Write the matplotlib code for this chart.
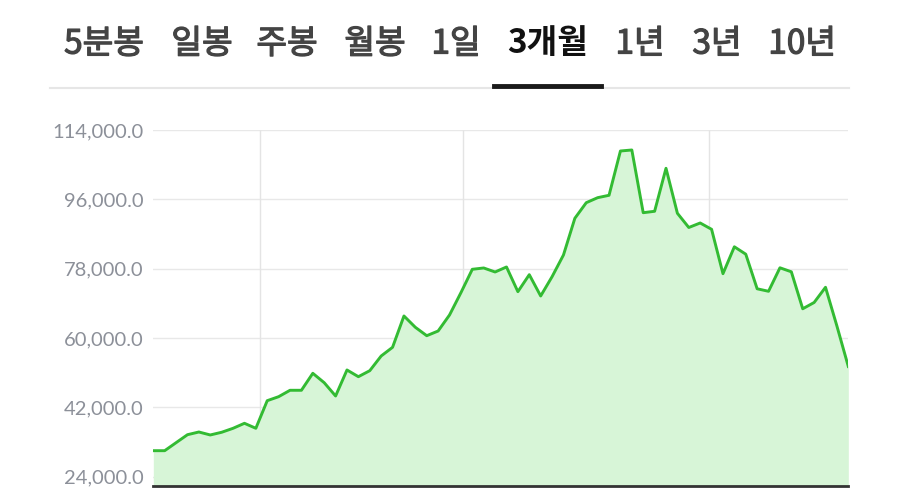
from matplotlib import pyplot as plt
from matplotlib import patheffects as pe
import numpy as np

plt.rcParams['font.family'] = ['Noto Sans CJK KR', 'DejaVu Sans']

# period tabs at the top
tabs = ['5분봉', '일봉', '주봉', '월봉', '1일', '3개월', '1년', '3년', '10년']
active_tab = '3개월'

# closing prices, 3 months
prices = np.array([30750, 30750, 32830, 34900, 35600, 34830, 35530, 36560,
                   37860, 36560, 43730, 44770, 46430, 46430, 50840, 48400,
                   44950, 51700, 49960, 51520, 55330, 57590, 65720, 62780,
                   60600, 61820, 65980, 71770, 77840, 78180, 77140, 78440,
                   72030, 76440, 70910, 75920, 81550, 91080, 95130, 96430,
                   97050, 108550, 108810, 92530, 92900, 104060, 92380, 88690,
                   89860, 88220, 76700, 83680, 81760, 72780, 72130, 78230,
                   77190, 67590, 69220, 73170, 63120, 52610])
days = np.arange(len(prices))

yticks = [24000, 42000, 60000, 78000, 96000, 114000]
month_lines = [9.37, 27.18, 48.78]   # month boundaries (in trading-day units)

##############################################################################

fig = plt.figure(figsize=(9, 4.92), dpi=100)

# tab bar
for i, t in enumerate(tabs):
    cx = [104, 202, 287, 375, 456, 548, 640, 717, 802][i] / 900
    if t == active_tab:
        fig.text(cx, 1 - 44/492, t, ha='center', va='center', fontsize=24,
                 fontweight='bold', color='#111111')
    else:
        fig.text(cx, 1 - 44/492, t, ha='center', va='center', fontsize=24,
                 color='#444444',
                 path_effects=[pe.withStroke(linewidth=0.9, foreground='#444444')])
fig.add_artist(plt.Line2D([50/900, 849/900], [1 - 88/492, 1 - 88/492],
                          color='#e6e6e6', lw=1.5))
fig.add_artist(plt.Line2D([494/900, 601/900], [1 - 86/492, 1 - 86/492],
                          color='#1a1a1a', lw=3.5))

# price chart
ax = fig.add_axes([153.3/900, 6.3/492, 695/900, 355.7/492])
ymin = 21660
ax.set_xlim(0, len(prices) - 1)
ax.set_ylim(ymin, 114000)

for v in yticks:
    ax.axhline(v, color='#e8e8e8', lw=1, zorder=0)
ax.vlines(month_lines, yticks[0], yticks[-1], color='#e4e4e4', lw=1, zorder=0)

ax.fill_between(days, prices, ymin, color='#d7f5d7', lw=0, zorder=1)
ax.plot(days, prices, color='#33bb33', lw=2.1, zorder=2)

ax.set_yticks(yticks)
ax.set_yticklabels(['{:,.1f}'.format(v) for v in yticks])
ax.tick_params(axis='y', length=0, pad=7, labelsize=14.5, labelcolor='#8c9099')
for lab in ax.get_yticklabels():
    lab.set_family(['Lato', 'DejaVu Sans'])
ax.set_xticks([])
for s in ['top', 'left', 'right']:
    ax.spines[s].set_visible(False)
ax.spines['bottom'].set_color('#333333')
ax.spines['bottom'].set_linewidth(2)

plt.savefig('out.png', dpi=100)
